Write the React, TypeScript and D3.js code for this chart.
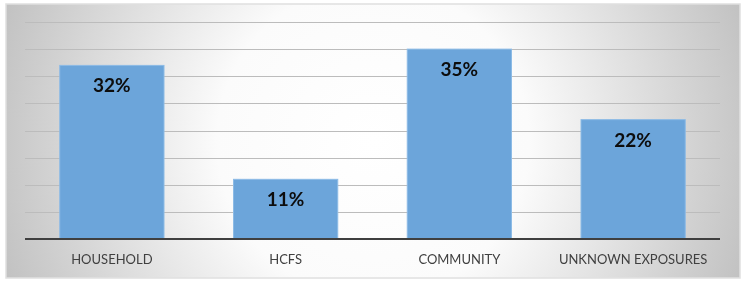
import { useEffect, useRef } from 'react';
import * as d3 from 'd3';

const categories = ['HOUSEHOLD', 'HCFS', 'COMMUNITY', 'UNKNOWN EXPOSURES'];
const shares = [32, 11, 35, 22];
const gridTicks = [0, 5, 10, 15, 20, 25, 30, 35, 40];

const width = 744;
const height = 284;

export default function App() {
  const svgRef = useRef<SVGSVGElement | null>(null);

  useEffect(() => {
    if (!svgRef.current) return;
    const svg = d3.select(svgRef.current);
    svg.selectAll('*').remove();

    const margin = { top: 22, right: 24, bottom: 45, left: 25 };
    const innerWidth = width - margin.left - margin.right;
    const innerHeight = height - margin.top - margin.bottom;

    // wide panel, so the shading is a round gradient in pixels, not a stretched one
    const defs = svg.append('defs');
    const grad = defs
      .append('radialGradient')
      .attr('id', 'panelBg')
      .attr('gradientUnits', 'userSpaceOnUse')
      .attr('cx', 373)
      .attr('cy', 141)
      .attr('r', 390);
    grad.append('stop').attr('offset', '0%').attr('stop-color', '#ffffff');
    grad.append('stop').attr('offset', '40%').attr('stop-color', '#fbfbfb');
    grad.append('stop').attr('offset', '100%').attr('stop-color', '#c2c2c2');

    svg
      .append('rect')
      .attr('x', 6)
      .attr('y', 4)
      .attr('width', 734)
      .attr('height', 274)
      .attr('fill', 'url(#panelBg)')
      .attr('stroke', '#e0e0e0')
      .attr('stroke-width', 1.5);

    const g = svg
      .append('g')
      .attr('transform', `translate(${margin.left},${margin.top})`);

    const x = d3
      .scaleBand<string>()
      .domain(categories)
      .range([0, innerWidth])
      .paddingInner(0.4)
      .paddingOuter(0.2);
    const y = d3.scaleLinear().domain([0, 40]).range([innerHeight, 0]);

    g.append('g')
      .selectAll('line')
      .data(gridTicks.filter((t) => t > 0))
      .join('line')
      .attr('x1', 0)
      .attr('x2', innerWidth)
      .attr('y1', (t) => Math.round(y(t)) + 0.5)
      .attr('y2', (t) => Math.round(y(t)) + 0.5)
      .attr('stroke', '#bcbcbc')
      .attr('stroke-width', 1);

    const data = categories.map((c, i) => ({ c, v: shares[i] }));

    g.append('g')
      .selectAll('rect')
      .data(data)
      .join('rect')
      .attr('x', (d) => x(d.c)!)
      .attr('y', (d) => y(d.v))
      .attr('width', x.bandwidth())
      .attr('height', (d) => innerHeight - y(d.v))
      .attr('fill', '#6ca5da')
      .attr('stroke', '#8cbbe6')
      .attr('stroke-width', 1);

    g.append('g')
      .selectAll('text')
      .data(data)
      .join('text')
      .attr('x', (d) => x(d.c)! + x.bandwidth() / 2)
      .attr('y', (d) => y(d.v) + 27)
      .attr('text-anchor', 'middle')
      .attr('font-family', 'Lato, "Open Sans", sans-serif')
      .attr('font-weight', 700)
      .attr('font-size', 19)
      .attr('fill', '#0d0d0d')
      .text((d) => `${d.v}%`);

    g.append('line')
      .attr('x1', 0)
      .attr('x2', innerWidth)
      .attr('y1', innerHeight)
      .attr('y2', innerHeight)
      .attr('stroke', '#3f3f3f')
      .attr('stroke-width', 2.2);

    g.append('g')
      .selectAll('text')
      .data(categories)
      .join('text')
      .attr('x', (c) => x(c)! + x.bandwidth() / 2)
      .attr('y', innerHeight + 25)
      .attr('text-anchor', 'middle')
      .attr('font-family', 'Lato, "Open Sans", sans-serif')
      .attr('font-size', 13)
      .attr('fill', '#404040')
      .text((c) => c);
  }, []);

  return (
    <div style={{ position: 'fixed', left: 0, top: 0 }}>
      <svg ref={svgRef} width={width} height={height} style={{ display: 'block' }} />
    </div>
  );
}
